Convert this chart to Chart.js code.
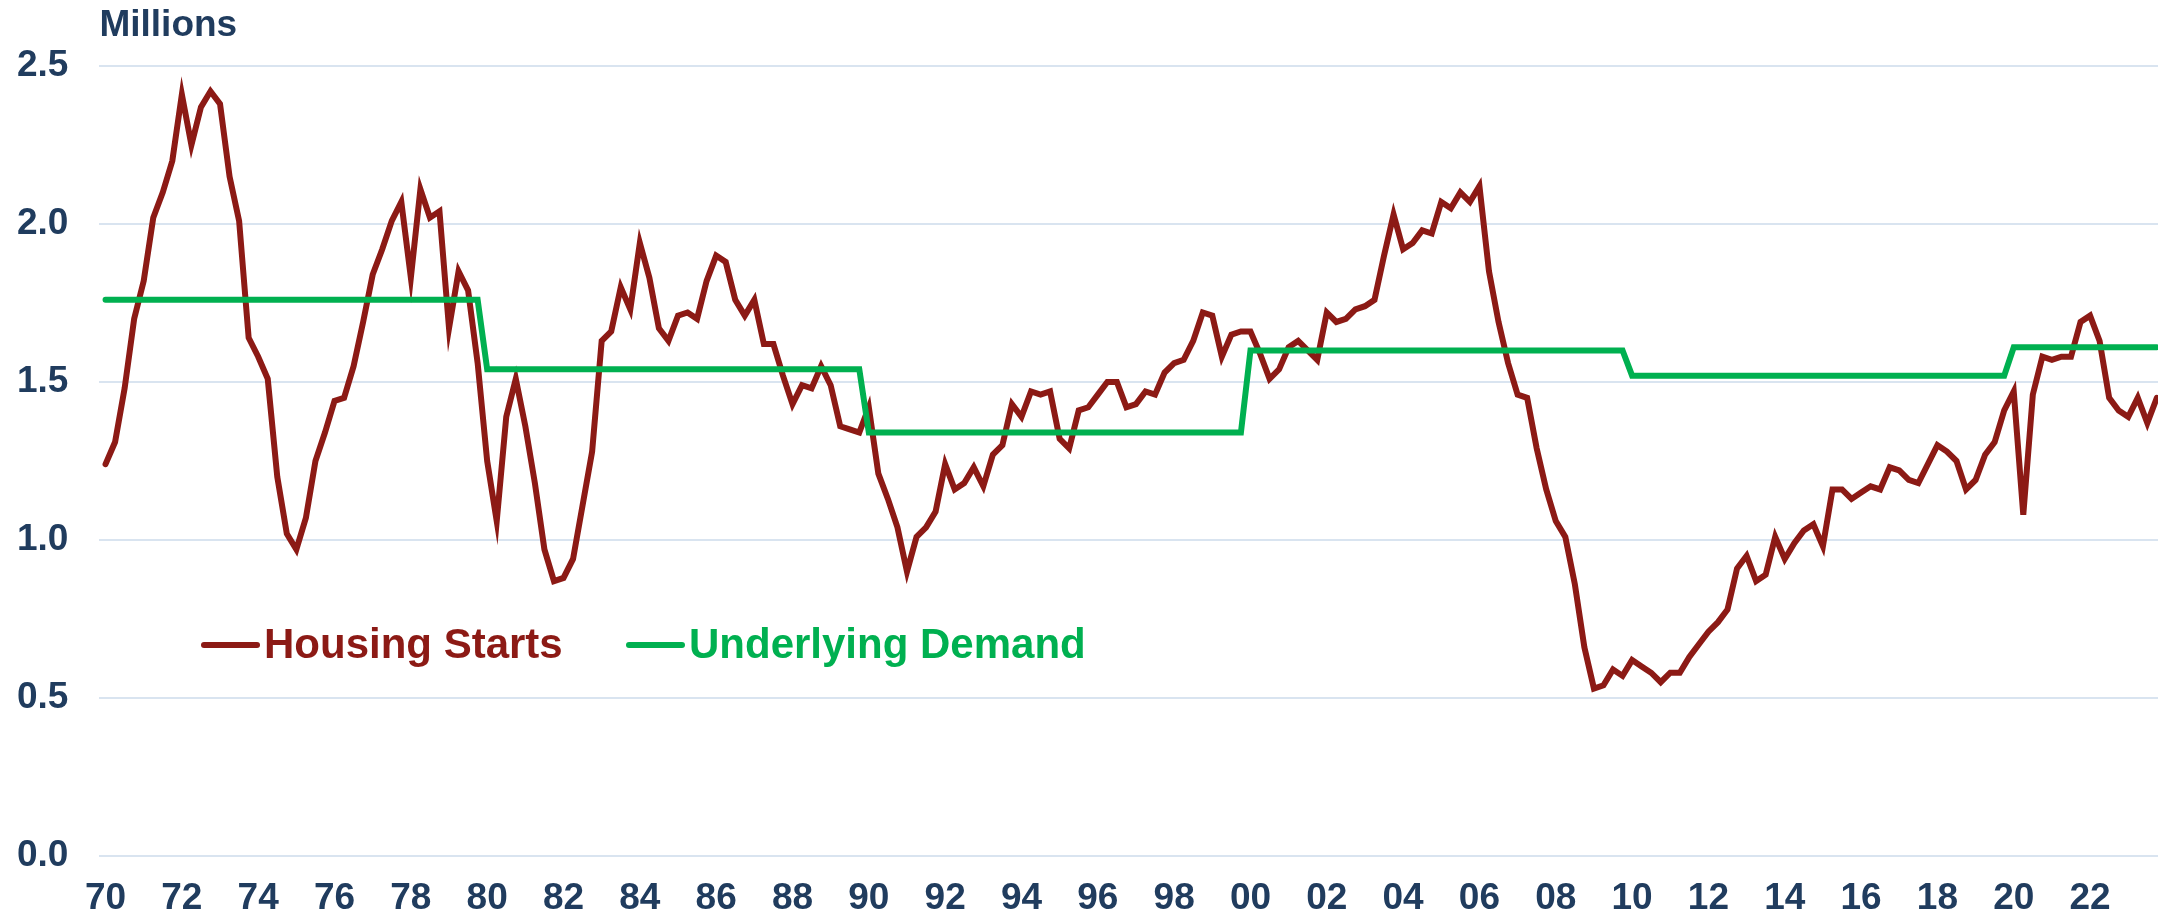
<!DOCTYPE html>
<html>
<head>
<meta charset="utf-8">
<title>Housing Starts vs Underlying Demand</title>
<script src="https://cdn.jsdelivr.net/npm/chart.js@4.4.1/dist/chart.umd.min.js"></script>
<style>
  html, body { margin: 0; padding: 0; background: #fff; }
  canvas { display: block; }
</style>
</head>
<body>
<canvas id="housingChart" width="2161" height="917"></canvas>
<script>
// quarterly housing starts, millions (Q1..Q4 per year)
const starts1970s = [
  1.24, 1.31, 1.48, 1.70,  1.82, 2.02, 2.10, 2.20,  2.41, 2.25, 2.37, 2.42,
  2.38, 2.15, 2.01, 1.64,  1.58, 1.51, 1.20, 1.02,  0.97, 1.07, 1.25, 1.34,
  1.44, 1.45, 1.55, 1.69,  1.84, 1.92, 2.01, 2.07,  1.83, 2.11, 2.02, 2.04,
  1.67, 1.85, 1.79, 1.56
];
const starts1980s = [
  1.25, 1.06, 1.39, 1.51,  1.36, 1.18, 0.97, 0.87,  0.88, 0.94, 1.11, 1.28,
  1.63, 1.66, 1.80, 1.73,  1.94, 1.83, 1.67, 1.63,  1.71, 1.72, 1.70, 1.82,
  1.90, 1.88, 1.76, 1.71,  1.76, 1.62, 1.62, 1.52,  1.43, 1.49, 1.48, 1.55,
  1.49, 1.36, 1.35, 1.34
];
const starts1990s = [
  1.42, 1.21, 1.13, 1.04,  0.90, 1.01, 1.04, 1.09,  1.24, 1.16, 1.18, 1.23,
  1.17, 1.27, 1.30, 1.43,  1.39, 1.47, 1.46, 1.47,  1.32, 1.29, 1.41, 1.42,
  1.46, 1.50, 1.50, 1.42,  1.43, 1.47, 1.46, 1.53,  1.56, 1.57, 1.63, 1.72,
  1.71, 1.58, 1.65, 1.66
];
const starts2000s = [
  1.66, 1.59, 1.51, 1.54,  1.61, 1.63, 1.60, 1.57,  1.72, 1.69, 1.70, 1.73,
  1.74, 1.76, 1.90, 2.03,  1.92, 1.94, 1.98, 1.97,  2.07, 2.05, 2.10, 2.07,
  2.12, 1.85, 1.69, 1.56,  1.46, 1.45, 1.29, 1.16,  1.06, 1.01, 0.86, 0.66,
  0.53, 0.54, 0.59, 0.57
];
const starts2010s = [
  0.62, 0.60, 0.58, 0.55,  0.58, 0.58, 0.63, 0.67,  0.71, 0.74, 0.78, 0.91,
  0.95, 0.87, 0.89, 1.01,  0.94, 0.99, 1.03, 1.05,  0.98, 1.16, 1.16, 1.13,
  1.15, 1.17, 1.16, 1.23,  1.22, 1.19, 1.18, 1.24,  1.30, 1.28, 1.25, 1.16,
  1.19, 1.27, 1.31, 1.41
];
const starts2020s = [
  1.47, 1.08, 1.46, 1.58,  1.57, 1.58, 1.58, 1.69,  1.71, 1.63, 1.45, 1.41,
  1.39, 1.45, 1.37, 1.45
];

// underlying demand, one level per decade
const demandDecades = [1970, 1980, 1990, 2000, 2010, 2020];
const demandLevels  = [1.76, 1.54, 1.34, 1.60, 1.52, 1.61];

const xTickYears  = [1970, 1972, 1974, 1976, 1978, 1980, 1982, 1984, 1986, 1988,
                     1990, 1992, 1994, 1996, 1998, 2000, 2002, 2004, 2006, 2008,
                     2010, 2012, 2014, 2016, 2018, 2020, 2022];
const xTickLabels = ['70', '72', '74', '76', '78', '80', '82', '84', '86', '88',
                     '90', '92', '94', '96', '98', '00', '02', '04', '06', '08',
                     '10', '12', '14', '16', '18', '20', '22'];
const yTicks = [0, 0.5, 1.0, 1.5, 2.0, 2.5];

const NAVY = '#203c5e';
const RED = '#8c1a15';
const GREEN = '#00b050';
const FONT = "'Liberation Sans', Arial, Helvetica, sans-serif";

const startsAll = [].concat(starts1970s, starts1980s, starts1990s, starts2000s, starts2010s, starts2020s);
const startsPoints = startsAll.map((v, i) => ({ x: 1970 + i / 4, y: v }));
const demandPoints = startsAll.map((v, i) => {
  const yr = 1970 + Math.floor(i / 4);
  let k = 0;
  for (let d = 0; d < demandDecades.length; d++) if (yr >= demandDecades[d]) k = d;
  return { x: 1970 + i / 4, y: demandLevels[k] };
});

const overlayText = {
  id: 'overlayText',
  afterDraw(chart) {
    const ctx = chart.ctx;
    const area = chart.chartArea;
    ctx.save();
    ctx.font = 'bold 37px ' + FONT;
    ctx.fillStyle = NAVY;
    ctx.textAlign = 'left';
    ctx.textBaseline = 'alphabetic';
    ctx.fillText('Millions', area.left, 36);

    // legend inside plot
    const items = [
      { label: 'Housing Starts', color: RED, x: 204 },
      { label: 'Underlying Demand', color: GREEN, x: 629 }
    ];
    ctx.font = 'bold 42px ' + FONT;
    items.forEach(it => {
      ctx.strokeStyle = it.color;
      ctx.lineWidth = 6;
      ctx.lineCap = 'round';
      ctx.beginPath();
      ctx.moveTo(it.x, 645);
      ctx.lineTo(it.x + 53, 645);
      ctx.stroke();
      ctx.fillStyle = it.color;
      ctx.fillText(it.label, it.x + 60, 658);
    });
    ctx.restore();
  }
};

new Chart(document.getElementById('housingChart'), {
  type: 'line',
  data: {
    datasets: [
      {
        label: 'Housing Starts',
        data: startsPoints,
        borderColor: RED,
        borderWidth: 6,
        pointRadius: 0,
        tension: 0,
        borderJoinStyle: 'miter',
        borderCapStyle: 'round',
        order: 1
      },
      {
        label: 'Underlying Demand',
        data: demandPoints,
        borderColor: GREEN,
        borderWidth: 6,
        pointRadius: 0,
        tension: 0,
        borderCapStyle: 'round',
        order: 0
      }
    ]
  },
  options: {
    responsive: false,
    animation: false,
    devicePixelRatio: 1,
    layout: { padding: { top: 66, left: 17, right: 3, bottom: 0 } },
    plugins: {
      legend: { display: false },
      tooltip: { enabled: false }
    },
    scales: {
      x: {
        type: 'linear',
        min: 1969.84,
        max: 2023.78,
        afterBuildTicks: axis => { axis.ticks = xTickYears.map(v => ({ value: v })); },
        grid: { display: false, drawTicks: true, tickLength: 24 },
        border: { display: false },
        ticks: {
          autoSkip: false,
          maxRotation: 0,
          padding: 0,
          color: NAVY,
          font: { family: FONT, size: 37, weight: 'bold', lineHeight: 1 },
          callback: v => xTickLabels[xTickYears.indexOf(v)]
        }
      },
      y: {
        min: 0,
        max: 2.5,
        afterBuildTicks: axis => { axis.ticks = yTicks.map(v => ({ value: v })); },
        grid: { color: '#d9e4f0', lineWidth: 2, drawTicks: true, tickLength: 31, tickColor: 'rgba(0,0,0,0)' },
        border: { display: false },
        ticks: {
          padding: 0,
          color: NAVY,
          font: { family: FONT, size: 37, weight: 'bold' },
          callback: v => v.toFixed(1)
        }
      }
    }
  },
  plugins: [overlayText]
});
</script>
</body>
</html>
